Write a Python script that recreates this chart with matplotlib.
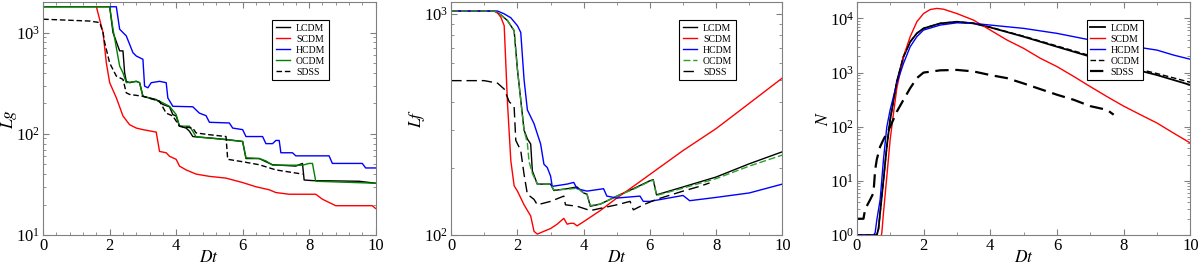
import matplotlib
matplotlib.use("Agg")
import matplotlib.pyplot as plt
from matplotlib.ticker import MultipleLocator, LogLocator, NullFormatter

plt.rcParams['font.family'] = ['Liberation Serif', 'DejaVu Serif']
plt.rcParams['mathtext.fontset'] = 'stix'

# ---- panel 1: Lg vs Dt ----
lg_lcdm_x = [0, 2.0, 2.1, 2.3, 2.4, 2.45, 2.5, 2.6, 2.8, 2.9, 3.0, 3.4, 3.6, 3.8, 3.9, 4.0, 4.1, 4.3, 4.4, 4.5,
             5.0, 5.5, 6.0, 6.1, 6.5, 6.7, 6.9, 7.6, 7.8, 7.85, 8.1, 9.5, 10]
lg_lcdm_y = [1800, 1800, 1000, 660, 660, 400, 330, 320, 330, 320, 235, 218, 195, 185, 155, 150, 119, 114, 106, 94,
             91, 88, 84, 57, 57, 53, 49.5, 48, 51, 35, 34.5, 34, 32.5]
lg_scdm_x = [1.6, 1.8, 1.9, 2.0, 2.2, 2.4, 2.6, 2.8, 3.0, 3.4, 3.5, 3.7, 3.8, 4.0, 4.1, 4.3, 4.6, 5.0, 5.5, 6.0,
             6.4, 6.8, 7.0, 7.4, 8.2, 8.4, 8.8, 9.9, 10]
lg_scdm_y = [1800, 1000, 500, 320, 227, 150, 123, 114, 110, 104, 67, 65, 60, 56, 48, 44, 40, 38, 36.5, 33,
             30, 28, 26.3, 25.3, 25.3, 22.6, 19.5, 19.5, 18.3]
lg_hcdm_x = [2.0, 2.2, 2.3, 2.5, 2.7, 2.8, 3.0, 3.05, 3.15, 3.25, 3.5, 3.7, 3.75, 3.9, 4.5, 4.7, 4.9, 5.0, 5.6,
             5.7, 6.0, 6.1, 6.6, 6.7, 6.9, 7.0, 7.1, 7.15, 7.5, 7.6, 8.6, 8.7, 9.6, 9.7, 10]
lg_hcdm_y = [1800, 1800, 1080, 927, 633, 587, 545, 296, 285, 320, 330, 320, 226, 187, 185, 160, 151, 130, 128,
             114, 110, 94, 94, 80, 80, 86, 86, 65, 65, 60.6, 60.6, 51, 51, 46, 46]
lg_ocdm_x = [0, 2.0, 2.1, 2.3, 2.4, 2.5, 2.8, 2.9, 3.0, 3.5, 3.8, 4.0, 4.1, 4.4, 4.5, 4.6, 5.0, 6.0, 6.1, 6.5,
             6.7, 6.9, 7.8, 8.0, 8.1, 8.2, 10]
lg_ocdm_y = [1800, 1800, 1080, 467, 400, 320, 330, 320, 235, 210, 187, 155, 119, 119, 106, 93, 91, 84, 58, 57,
             54, 49, 49, 51, 51, 34, 32.5]
lg_sdss_x = [0, 1.4, 1.7, 1.8, 1.85, 2.0, 2.2, 2.4, 2.5, 2.6, 3.0, 3.5, 3.7, 3.9, 4.1, 4.5, 4.6, 5.0, 5.5, 5.55,
             6.0, 6.5, 7.0, 7.5, 7.8]
lg_sdss_y = [1356, 1300, 1256, 1000, 796, 500, 372, 345, 254, 245, 235, 210, 160, 150, 119, 114, 102, 98, 94, 56,
             53, 49.5, 44, 41.5, 40]

# ---- panel 2: Lf vs Dt ----
lf_lcdm_x = [0, 1.3, 1.5, 1.7, 1.9, 2.0, 2.1, 2.2, 2.3, 2.4, 2.45, 2.6, 3.0, 3.1, 3.5, 3.8, 4.0, 4.1, 4.2, 4.5,
             4.8, 5.0, 5.5, 6.0, 6.1, 6.2, 7.0, 8.0, 9.0, 10.0]
lf_lcdm_y = [1030, 1030, 990, 932, 839, 560, 408, 298, 272, 258, 195, 170, 170, 159, 162, 165, 155, 153, 135, 138,
             145, 150, 162, 176, 178, 152, 165, 183, 210, 238]
lf_ocdm_x = [0, 1.3, 1.5, 1.7, 1.9, 2.0, 2.1, 2.2, 2.3, 2.35, 2.45, 2.6, 3.0, 3.1, 3.5, 3.8, 4.0, 4.1, 4.2, 4.5,
             4.8, 5.0, 5.5, 6.0, 6.1, 6.2, 7.0, 8.0, 9.0, 10.0]
lf_ocdm_y = [1030, 1030, 990, 932, 839, 560, 408, 298, 260, 215, 190, 170, 170, 160, 161, 163, 155, 153, 136, 138,
             145, 150, 161, 175, 177, 151, 163, 180, 205, 230]
lf_scdm_x = [0, 1.3, 1.4, 1.5, 1.6, 1.7, 1.8, 1.9, 2.0, 2.2, 2.4, 2.5, 2.6, 2.8, 3.0, 3.2, 3.4, 3.5, 3.6, 3.7,
             3.8, 4.0, 4.5, 5.0, 5.5, 6.0, 7.0, 8.0, 9.0, 10.0]
lf_scdm_y = [1030, 1030, 1010, 965, 884, 394, 217, 167, 158, 137, 122, 104, 101, 104, 107, 112, 119, 112, 113, 113,
             110, 115, 129, 147, 166, 188, 241, 303, 394, 513]
lf_hcdm_x = [0, 1.4, 1.6, 1.8, 2.0, 2.1, 2.2, 2.3, 2.5, 2.7, 2.8, 2.9, 3.0, 3.05, 3.5, 3.7, 3.8, 4.1, 4.6, 4.7,
             5.0, 5.7, 5.8, 6.0, 7.0, 7.2, 8.0, 9.0, 10.0]
lf_hcdm_y = [1030, 1030, 1000, 960, 884, 824, 504, 368, 319, 258, 209, 202, 185, 166, 170, 173, 162, 158, 162, 150,
             147, 150, 142, 142, 151, 143, 148, 155, 170]
lf_sdss_x = [0, 1.0, 1.4, 1.6, 1.75, 1.9, 1.95, 2.1, 2.2, 2.3, 2.5, 2.6, 3.0, 3.4, 3.45, 3.8, 4.0, 4.2, 4.6, 5.0,
             5.4, 5.5, 5.8, 6.2, 7.0, 7.5, 7.8]
lf_sdss_y = [499, 499, 486, 457, 401, 380, 268, 241, 188, 153, 145, 137, 142, 150, 137, 135, 132, 129, 133, 137,
             142, 130, 137, 145, 158, 166, 172]

# ---- panel 3: N vs Dt ----
n_lcdm_x = [0, 0.55, 0.6, 0.65, 0.7, 0.8, 0.9, 1.0, 1.2, 1.4, 1.6, 1.8, 2.0, 2.5, 3.0, 3.5, 4.0, 5.0, 6.0, 7.0,
            8.0, 9.0, 10]
n_lcdm_y = [1, 1, 1, 1.3, 2.6, 10.5, 43, 135, 680, 1970, 3700, 5300, 6550, 8100, 8680, 8100, 6830, 4600, 3000, 1970,
            1290, 900, 590]
n_ocdm_y = [1, 1, 1, 1.3, 2.6, 10.5, 43, 135, 680, 1970, 3700, 5300, 6550, 8100, 8680, 8150, 6900, 4700, 3100, 2050,
            1350, 960, 660]
n_scdm_x = [0.72, 0.75, 0.8, 0.9, 1.0, 1.1, 1.2, 1.4, 1.6, 1.8, 2.0, 2.2, 2.4, 2.6, 3.0, 3.5, 4.0, 4.5, 5.0, 5.5,
            6.0, 6.5, 7.0, 7.5, 8.0, 8.5, 9.0, 9.5, 10]
n_scdm_y = [0.9, 1.1, 2.6, 12, 58, 178, 516, 1970, 4600, 8680, 12300, 14600, 15300, 14800, 12300, 9300, 6100, 4000,
            2800, 1840, 1290, 850, 550, 360, 240, 167, 117, 76, 50]
n_hcdm_x = [0, 0.5, 0.55, 0.6, 0.7, 0.8, 0.9, 1.0, 1.2, 1.4, 1.6, 1.8, 2.0, 2.5, 3.0, 3.5, 4.0, 5.0, 6.0, 7.0,
            8.0, 9.0, 9.5, 10]
n_hcdm_y = [1, 1, 1.1, 1.9, 4.5, 25, 100, 205, 640, 1480, 3000, 4600, 6100, 7540, 8300, 8100, 7540, 6550, 5300, 4000,
            3230, 2600, 2100, 1760]
n_sdss_x = [0, 0.2, 0.25, 0.4, 0.5, 0.55, 0.6, 0.7, 0.8, 1.0, 1.2, 1.4, 1.6, 1.8, 2.0, 2.5, 3.0, 3.5, 4.0, 4.5,
            5.0, 5.5, 6.0, 6.5, 7.0, 7.5, 7.7]
n_sdss_y = [2, 2, 3, 4.5, 6, 16, 25, 43, 58, 100, 190, 315, 515, 790, 1000, 1100, 1120, 1050, 900, 790,
            630, 495, 390, 315, 240, 205, 167]

FRAME = '#808080'


def style_axis(ax, ylabel, ylim, xminor):
    ax.set_yscale('log')
    ax.set_xlim(0, 10)
    ax.set_ylim(*ylim)
    ax.xaxis.set_major_locator(MultipleLocator(2))
    ax.xaxis.set_minor_locator(MultipleLocator(xminor))
    ax.yaxis.set_major_locator(LogLocator(base=10))
    ax.yaxis.set_minor_locator(LogLocator(base=10, subs=range(2, 10)))
    ax.yaxis.set_minor_formatter(NullFormatter())
    ax.tick_params(which='both', direction='in', top=True, right=True, color=FRAME, labelsize=12, pad=2)
    ax.tick_params(which='major', length=4)
    ax.tick_params(which='minor', length=2.5)
    for s in ax.spines.values():
        s.set_color(FRAME)
    ax.set_xlabel('$Dt$', fontsize=12.5, labelpad=-3)
    ax.set_ylabel(ylabel, fontsize=12.5, labelpad=-2)
    leg = ax.legend(loc='upper right', bbox_to_anchor=(0.865, 0.93), fontsize=7, labelspacing=0.2,
                    handlelength=1.5, handletextpad=0.6, borderpad=0.35, borderaxespad=0.2,
                    fancybox=False, framealpha=1)
    leg.get_frame().set_edgecolor('black')
    leg.get_frame().set_linewidth(0.8)


fig = plt.figure(figsize=(12, 2.65), dpi=100)
ax1 = fig.add_axes([0.036, 0.113, 0.277, 0.879])
ax2 = fig.add_axes([0.376, 0.113, 0.276, 0.879])
ax3 = fig.add_axes([0.714, 0.113, 0.278, 0.879])

lw = 1.0
ax1.plot(lg_lcdm_x, lg_lcdm_y, color='black', lw=lw, label='LCDM')
ax1.plot(lg_scdm_x, lg_scdm_y, color='red', lw=lw, label='SCDM')
ax1.plot(lg_hcdm_x, lg_hcdm_y, color='blue', lw=lw, label='HCDM')
ax1.plot(lg_ocdm_x, lg_ocdm_y, color='green', lw=lw, label='OCDM')
ax1.plot(lg_sdss_x, lg_sdss_y, color='black', lw=lw, ls=(0, (4, 2)), label='SDSS')
style_axis(ax1, '$Lg$', (10, 2000), 0.4)

ax2.plot(lf_lcdm_x, lf_lcdm_y, color='black', lw=lw, label='LCDM')
ax2.plot(lf_scdm_x, lf_scdm_y, color='red', lw=lw, label='SCDM')
ax2.plot(lf_hcdm_x, lf_hcdm_y, color='blue', lw=lw, label='HCDM')
ax2.plot(lf_ocdm_x, lf_ocdm_y, color='#2ca02c', lw=lw, ls=(0, (5, 2)), label='OCDM')
ax2.plot(lf_sdss_x, lf_sdss_y, color='black', lw=lw, ls=(0, (7.5, 3.5)), label='SDSS')
style_axis(ax2, '$Lf$', (100, 1130), 1)

ax3.plot(n_lcdm_x, n_lcdm_y, color='black', lw=1.3, label='LCDM')
ax3.plot(n_scdm_x, n_scdm_y, color='red', lw=lw, label='SCDM')
ax3.plot(n_hcdm_x, n_hcdm_y, color='blue', lw=lw, label='HCDM')
ax3.plot(n_lcdm_x, n_ocdm_y, color='black', lw=lw, ls=(0, (4, 2)), label='OCDM')
ax3.plot(n_sdss_x, n_sdss_y, color='black', lw=1.6, ls=(0, (6, 3)), label='SDSS')
style_axis(ax3, '$N$', (1, 20000), 1)

fig.savefig('out.png', dpi=100)
